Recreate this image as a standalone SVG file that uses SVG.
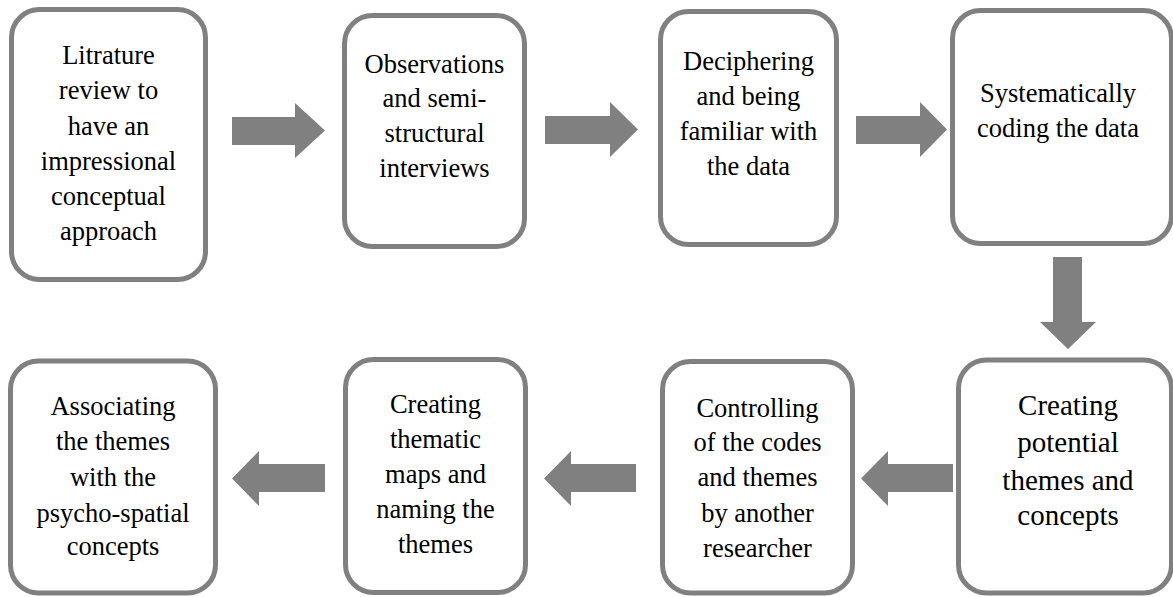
<svg xmlns="http://www.w3.org/2000/svg" width="1173" height="597" viewBox="0 0 1173 597">
<style>
.box{fill:#ffffff;stroke:#808080;stroke-width:5}
.arr{fill:#808080}
.t{font-family:'Liberation Serif',Tinos,'Times New Roman','DejaVu Serif',serif;font-size:26.5px;fill:#000;text-anchor:middle}
.big{font-size:29px}
</style>
<rect width="1173" height="597" fill="#ffffff"/>
<g id="connectors">
<polygon class="arr" points="232,117 295,117 295,103 325,130.5 295,158 295,145 232,145"/>
<polygon class="arr" points="545,116 610,116 610,102 638,129.5 610,157 610,144 545,144"/>
<polygon class="arr" points="856,116 920,116 920,102 947,129.5 920,157 920,144 856,144"/>
<polygon class="arr" points="1053,257 1082,257 1082,322 1096,322 1068,349 1040,322 1053,322"/>
<polygon class="arr" points="953,464 888,464 888,451 861,478.5 888,506 888,492 953,492"/>
<polygon class="arr" points="636,464 571,464 571,451 544,478.5 571,506 571,492 636,492"/>
<polygon class="arr" points="325,464 259,464 259,451 232,478.5 259,506 259,492 325,492"/>
</g>
<g id="n1" class="t" font-family="Liberation Serif, serif">
<rect class="box" x="11.5" y="9.5" width="194" height="270" rx="28"/>
<text x="108.5" y="64">Litrature</text>
<text x="108.5" y="99">review to</text>
<text x="108.5" y="135">have an</text>
<text x="108.5" y="170">impressional</text>
<text x="108.5" y="205">conceptual</text>
<text x="108.5" y="240">approach</text>
</g>
<g id="n2" class="t" font-family="Liberation Serif, serif">
<rect class="box" x="344.5" y="15.5" width="180" height="231" rx="28"/>
<text x="434.5" y="73">Observations</text>
<text x="434.5" y="107">and semi-</text>
<text x="434.5" y="142">structural</text>
<text x="434.5" y="177">interviews</text>
</g>
<g id="n3" class="t" font-family="Liberation Serif, serif">
<rect class="box" x="660.5" y="11.5" width="176" height="233" rx="28"/>
<text x="748.5" y="70">Deciphering</text>
<text x="748.5" y="105">and being</text>
<text x="748.5" y="140">familiar with</text>
<text x="748.5" y="175">the data</text>
</g>
<g id="n4" class="t" font-family="Liberation Serif, serif">
<rect class="box" x="952.5" y="10.5" width="219" height="233" rx="28"/>
<text x="1058" y="102">Systematically</text>
<text x="1058" y="137">coding the data</text>
</g>
<g id="n5" class="t big" font-family="Liberation Serif, serif">
<rect class="box" x="958.5" y="360" width="213" height="233" rx="28"/>
<text x="1068" y="415">Creating</text>
<text x="1068" y="452">potential</text>
<text x="1068" y="490">themes and</text>
<text x="1068" y="525">concepts</text>
</g>
<g id="n6" class="t" font-family="Liberation Serif, serif">
<rect class="box" x="662.5" y="361.5" width="190" height="231.5" rx="28"/>
<text x="757.5" y="417">Controlling</text>
<text x="757.5" y="451">of the codes</text>
<text x="757.5" y="486">and themes</text>
<text x="757.5" y="522">by another</text>
<text x="757.5" y="557">researcher</text>
</g>
<g id="n7" class="t" font-family="Liberation Serif, serif">
<rect class="box" x="345.5" y="359.5" width="180" height="233" rx="28"/>
<text x="435.5" y="413">Creating</text>
<text x="435.5" y="448">thematic</text>
<text x="435.5" y="483">maps and</text>
<text x="435.5" y="518">naming the</text>
<text x="435.5" y="553">themes</text>
</g>
<g id="n8" class="t" font-family="Liberation Serif, serif">
<rect class="box" x="10.5" y="361" width="205" height="232" rx="28"/>
<text x="113" y="415">Associating</text>
<text x="113" y="450">the themes</text>
<text x="113" y="486">with the</text>
<text x="113" y="522">psycho-spatial</text>
<text x="113" y="555">concepts</text>
</g>
</svg>
